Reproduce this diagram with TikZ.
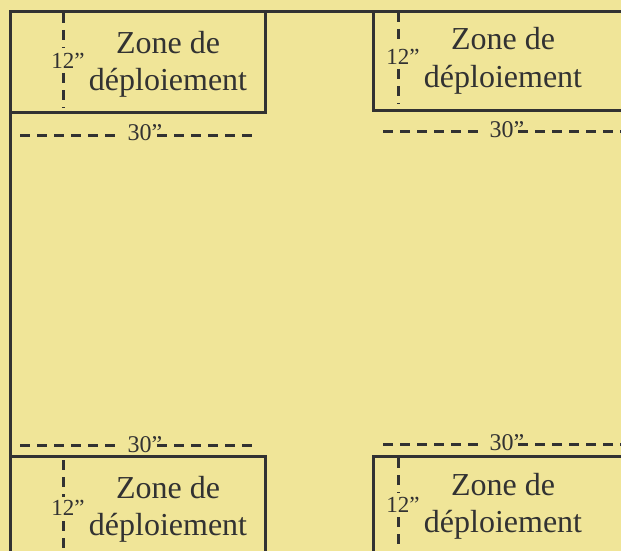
\documentclass[tikz,border=0pt]{standalone}
\usepackage{fontspec}
\setmainfont{Liberation Serif}
\definecolor{bgyellow}{RGB}{240,229,152}
\definecolor{ink}{RGB}{50,50,50}
\begin{document}
\begin{tikzpicture}[x=1pt,y=-1pt,
  frame/.style={draw=ink,line width=3pt,line join=miter},
  dimline/.style={draw=ink,line width=3pt,dash pattern=on 10pt off 7pt},
  zone/.style={inner sep=0pt,anchor=base,text=ink,font=\fontsize{32}{38}\selectfont},
  dimlab/.style={inner sep=0pt,anchor=base,text=ink,font=\fontsize{23}{27}\selectfont},
  widlab/.style={inner sep=0pt,anchor=base,text=ink,font=\fontsize{24}{28}\selectfont}]
\fill[bgyellow] (0,0) rectangle (621,551);
\useasboundingbox (0,0) rectangle (621,551);
\begin{scope}
\clip (0,0) rectangle (621,551);
% outer frame
\draw[frame] (10.5,570) -- (10.5,11.5) -- (640,11.5);
% deployment zones
\draw[frame] (10.5,11.5) rectangle (265.5,112.5);
\draw[frame] (373.5,11.5) rectangle (640,110.5);
\draw[frame] (10.5,456.5) rectangle (265.5,570);
\draw[frame] (373.5,456.5) rectangle (640,570);

% top-left
\node[zone] (tlA) at (168,53) {Zone de};
\node[zone] (tlB) at (168,90) {déploiement};
\node[dimlab] (tl12) at (68,68) {12”};
\node[widlab] (tl30) at (145,140) {30”};
\coordinate (tlv1) at (63.5,13); \coordinate (tlv2) at (63.5,48);
\coordinate (tlv3) at (63.5,73); \coordinate (tlv4) at (63.5,108);
\draw[dimline] (tlv1) -- (tlv2); \draw[dimline] (tlv3) -- (tlv4);
\coordinate (tlh1) at (20,135.5); \coordinate (tlh2) at (119,135.5);
\coordinate (tlh3) at (157,135.5); \coordinate (tlh4) at (258,135.5);
\draw[dimline] (tlh1) -- (tlh2); \draw[dimline] (tlh3) -- (tlh4);

% top-right
\node[zone] (trA) at (503,50) {Zone de};
\node[zone] (trB) at (503,87) {déploiement};
\node[dimlab] (tr12) at (403,65) {12”};
\node[widlab] (tr30) at (507,137) {30”};
\coordinate (trv1) at (398.5,12); \coordinate (trv2) at (398.5,44);
\coordinate (trv3) at (398.5,69); \coordinate (trv4) at (398.5,104);
\draw[dimline] (trv1) -- (trv2); \draw[dimline] (trv3) -- (trv4);
\coordinate (trh1) at (383,131.5); \coordinate (trh2) at (479,131.5);
\coordinate (trh3) at (518,131.5); \coordinate (trh4) at (625,131.5);
\draw[dimline] (trh1) -- (trh2); \draw[dimline] (trh3) -- (trh4);

% bottom-left
\node[zone] (blA) at (168,498) {Zone de};
\node[zone] (blB) at (168,535) {déploiement};
\node[dimlab] (bl12) at (68,515) {12”};
\node[widlab] (bl30) at (145,452) {30”};
\coordinate (blv1) at (63.5,460); \coordinate (blv2) at (63.5,497);
\coordinate (blv3) at (63.5,521); \coordinate (blv4) at (63.5,560);
\draw[dimline] (blv1) -- (blv2); \draw[dimline] (blv3) -- (blv4);
\coordinate (blh1) at (20,445.5); \coordinate (blh2) at (119,445.5);
\coordinate (blh3) at (157,445.5); \coordinate (blh4) at (258,445.5);
\draw[dimline] (blh1) -- (blh2); \draw[dimline] (blh3) -- (blh4);

% bottom-right
\node[zone] (brA) at (503,495) {Zone de};
\node[zone] (brB) at (503,532) {déploiement};
\node[dimlab] (br12) at (403,512) {12”};
\node[widlab] (br30) at (507,450) {30”};
\coordinate (brv1) at (398.5,458); \coordinate (brv2) at (398.5,493);
\coordinate (brv3) at (398.5,517); \coordinate (brv4) at (398.5,560);
\draw[dimline] (brv1) -- (brv2); \draw[dimline] (brv3) -- (brv4);
\coordinate (brh1) at (383,444.5); \coordinate (brh2) at (479,444.5);
\coordinate (brh3) at (518,444.5); \coordinate (brh4) at (625,444.5);
\draw[dimline] (brh1) -- (brh2); \draw[dimline] (brh3) -- (brh4);
\end{scope}
\end{tikzpicture}
\end{document}
